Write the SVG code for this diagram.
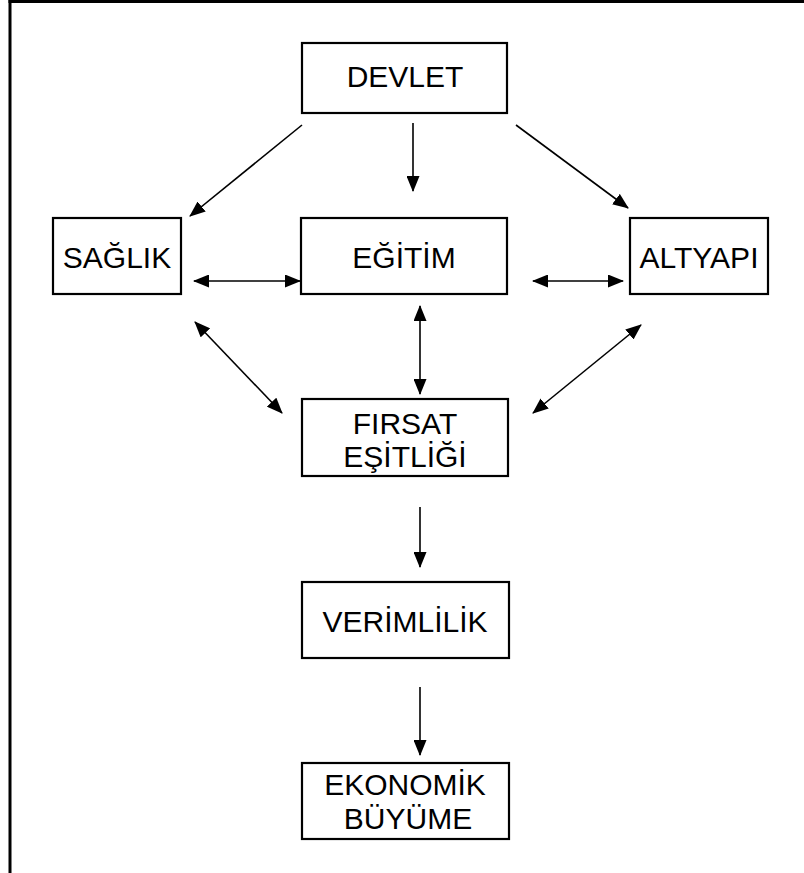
<svg xmlns="http://www.w3.org/2000/svg" width="804" height="873" viewBox="0 0 804 873">
<defs>
<style>
.box{fill:#fff;stroke:#000;stroke-width:2.2}
.t{font-family:"Liberation Sans",Arial,sans-serif;font-size:30px;fill:#000;text-anchor:middle}
.c{stroke:#000;stroke-width:1.6;fill:none}
.a{marker-end:url(#ah)}
.d{marker-start:url(#ah);marker-end:url(#ah)}
</style>
<marker id="ah" markerUnits="userSpaceOnUse" markerWidth="16" markerHeight="13" viewBox="0 0 16 13" refX="15" refY="6.5" orient="auto-start-reverse">
<path d="M0,0 L16,6.5 L0,13 z" fill="#000"/>
</marker>
</defs>
<rect width="804" height="873" fill="#fff"/>
<g id="frame">
<line x1="8.5" y1="1.5" x2="804" y2="1.5" stroke="#000" stroke-width="3"/>
<line x1="10" y1="0" x2="10" y2="873" stroke="#000" stroke-width="3"/>
</g>
<g id="devlet"><rect class="box" x="302" y="43" width="205" height="70"/><text class="t" x="405" y="87">DEVLET</text></g>
<g id="saglik"><rect class="box" x="53" y="218" width="128" height="76"/><text class="t" x="117" y="268">SAĞLIK</text></g>
<g id="egitim"><rect class="box" x="301" y="218" width="206" height="76"/><text class="t" x="404" y="268">EĞİTİM</text></g>
<g id="altyapi"><rect class="box" x="630" y="218" width="138" height="76"/><text class="t" x="699" y="268">ALTYAPI</text></g>
<g id="firsat"><rect class="box" x="302" y="399" width="206" height="77"/><text class="t" x="405" y="434">FIRSAT</text><text class="t" x="405" y="467">EŞİTLİĞİ</text></g>
<g id="verimlilik"><rect class="box" x="302" y="582" width="207" height="76"/><text class="t" x="405" y="632">VERİMLİLİK</text></g>
<g id="ekonomik"><rect class="box" x="302" y="763" width="207" height="76"/><text class="t" x="405" y="795">EKONOMİK</text><text class="t" x="408" y="829">BÜYÜME</text></g>
<g id="connectors">
<line class="c a" x1="302" y1="125" x2="190" y2="216"/>
<line class="c a" x1="413" y1="123" x2="413" y2="191"/>
<line class="c a" x1="516" y1="125" x2="628" y2="208"/>
<line class="c d" x1="194" y1="281" x2="300" y2="281"/>
<line class="c d" x1="533" y1="281" x2="623" y2="281"/>
<line class="c d" x1="195" y1="322" x2="282" y2="413"/>
<line class="c d" x1="420" y1="306" x2="420" y2="394"/>
<line class="c d" x1="641" y1="325" x2="533" y2="413"/>
<line class="c a" x1="420" y1="507" x2="420" y2="567"/>
<line class="c a" x1="420" y1="687" x2="420" y2="755"/>
</g>
</svg>
